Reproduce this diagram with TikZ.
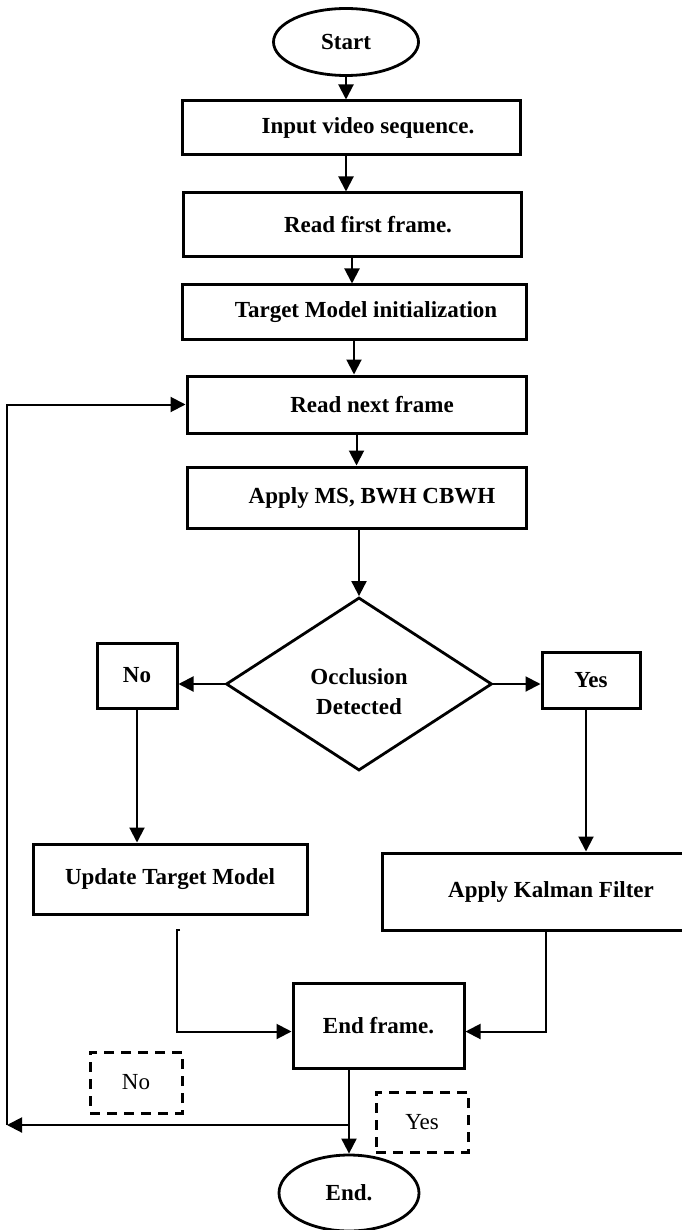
\documentclass[tikz,border=0pt]{standalone}
\usepackage{fontspec}
\setmainfont{Liberation Serif}
\usetikzlibrary{arrows.meta,shapes.geometric}

\begin{document}
\begin{tikzpicture}[
  x=1pt, y=-1pt,
  font=\fontsize{23}{30}\selectfont\bfseries,
  box/.style={draw, line width=3pt, align=center, inner sep=0pt},
  term/.style={draw, ellipse, line width=2.8pt, inner sep=0pt},
  decision/.style={draw, diamond, line width=2.8pt, align=center, inner sep=0pt, aspect=1.54},
  tag/.style={draw, dash pattern=on 10pt off 7pt, line width=3pt, inner sep=0pt, font=\fontsize{23}{28}\selectfont},
  flow/.style={line width=2pt},
  >={Triangle[length=15pt,width=15pt]}
]
\useasboundingbox (0,0) rectangle (681,1230);

\node[term, minimum width=145pt, minimum height=67pt] (start) at (346,42) {Start};
\node[box, minimum width=338pt, minimum height=54pt] (input) at (351,128) {\hspace*{34pt}Input video sequence.};
\node[box, minimum width=338pt, minimum height=64pt] (first) at (352,225) {\hspace*{32pt}Read first frame.};
\node[box, minimum width=344pt, minimum height=54pt] (init) at (354,312) {\hspace*{24pt}Target Model initialization};
\node[box, minimum width=339pt, minimum height=57pt] (next) at (356.5,404.5) {\hspace*{31pt}Read next frame};
\node[box, minimum width=339pt, minimum height=61pt] (apply) at (356.5,497.5) {\hspace*{31pt}Apply MS, BWH CBWH};
\node[decision, minimum width=266pt, minimum height=173pt] (occl) at (359,684) {\rule{0pt}{32pt}Occlusion\\Detected};
\node[box, minimum width=80pt, minimum height=65pt] (no) at (137,675.5) {No};
\node[box, minimum width=98pt, minimum height=56pt] (yes) at (591,680) {Yes};
\node[box, minimum width=274pt, minimum height=70pt] (upd) at (170,879) {Update Target Model};
\node[box, minimum width=338pt, minimum height=77pt] (kal) at (551,891.5) {Apply Kalman Filter};
\node[box, minimum width=171pt, minimum height=85pt] (endf) at (378.5,1025.5) {End frame.};
\node[term, minimum width=140pt, minimum height=76pt] (end) at (349,1193) {End.};

\node[tag, minimum width=92pt, minimum height=61pt] (notag) at (136,1082.5) {No};
\node[tag, minimum width=92pt, minimum height=60pt] (yestag) at (422,1122) {Yes};

\coordinate (u1) at (177,930);
\coordinate (lp) at (7,1125);

\draw[flow, ->] (start.south) -- (start.south |- input.north);
\draw[flow, ->] (input.south -| start.south) -- (start.south |- first.north);
\draw[flow, ->] (first.south) -- (first.south |- init.north);
\draw[flow, ->] (init.south) -- (init.south |- next.north);
\draw[flow, ->] (next.south) -- (next.south |- apply.north);
\draw[flow, ->] (apply.south -| occl.north) -- (occl.north);

\draw[flow, ->] (occl.west) -- (occl.west -| no.east);
\draw[flow, ->] (occl.east) -- (occl.east -| yes.west);
\draw[flow, ->] (no.south) -- (no.south |- upd.north);
\draw[flow, ->] ([xshift=-5pt]yes.south) -- ([xshift=-5pt]yes.south |- kal.north);

\draw[flow, ->] ([xshift=3pt]u1) -- (u1) |- ([yshift=-6pt]endf.west);
\draw[flow, ->] ([xshift=-5pt]kal.south) |- ([yshift=-6pt]endf.east);
\draw[flow, ->] (end.north |- endf.south) -- (end.north);

% back to the next frame
\draw[flow, ->] (end.north |- lp) -- (lp);
\draw[flow, ->] (lp) |- (next.west);

\end{tikzpicture}
\end{document}
